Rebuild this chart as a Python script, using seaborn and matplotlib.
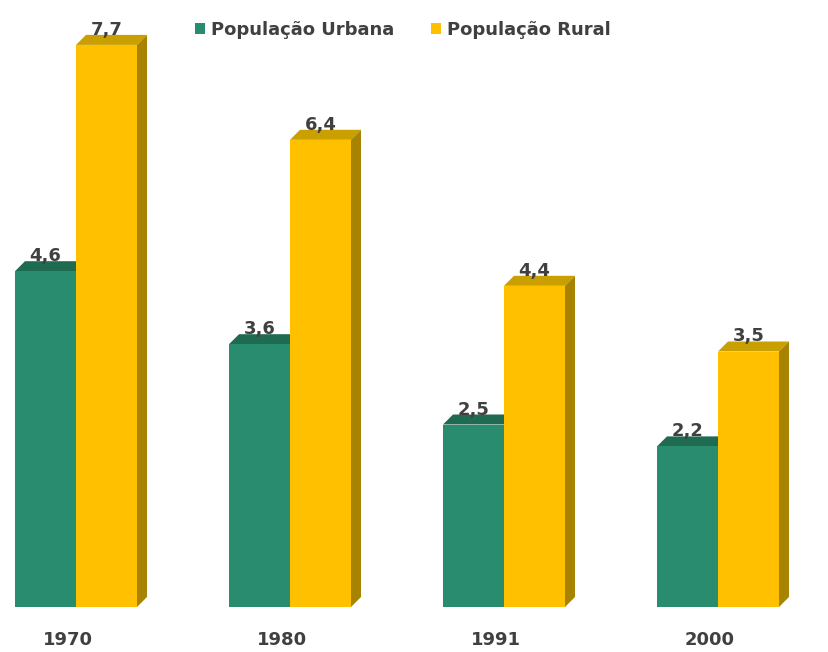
import matplotlib
matplotlib.use("Agg")
import matplotlib.pyplot as plt
from matplotlib.patches import Polygon, Patch
import seaborn as sns
import pandas as pd

years = ["1970", "1980", "1991", "2000"]
urbana = [4.6, 3.6, 2.5, 2.2]
rural = [7.7, 6.4, 4.4, 3.5]
series = ["População Urbana", "População Rural"]

front = {"População Urbana": "#2A8C6E", "População Rural": "#FFC000"}
top_col = {"População Urbana": "#1F6B52", "População Rural": "#C9A000"}
side_col = {"População Urbana": "#1A5A45", "População Rural": "#A88300"}
text_col = "#404040"

df = pd.DataFrame({
    "ano": years * 2,
    "serie": [series[0]] * len(years) + [series[1]] * len(years),
    "valor": urbana + rural,
})

sns.set_theme(style="white")
plt.rcParams["font.family"] = ["DejaVu Sans"]

W, H = 829, 652
fig = plt.figure(figsize=(W / 100, H / 100), dpi=100)
base_px, px_per_unit, group_px, first_px = 607, 73.0, 214.0, 76.0
ax = fig.add_axes([0, (H - base_px) / H, 1, base_px / H])

sns.barplot(data=df, x="ano", y="valor", hue="serie", hue_order=series,
            palette=front, width=0.57, saturation=1, ax=ax,
            linewidth=0, legend=False, zorder=3)

ax.set_xlim(-first_px / group_px, (W - first_px) / group_px)
ax.set_ylim(0, base_px / px_per_unit)

# 3D depth offsets in data units
dx = 10 / group_px
dy = 10 / px_per_unit

for container, name in zip(ax.containers, series):
    z = 2 if name == series[0] else 3
    for bar, val in zip(container.patches, container.datavalues):
        x0 = bar.get_x()
        x1 = x0 + bar.get_width()
        h = bar.get_height()
        bar.set_zorder(z + 0.5)
        top = Polygon([(x0, h), (x0 + dx, h + dy), (x1 + dx, h + dy), (x1, h)],
                      closed=True, facecolor=top_col[name], edgecolor="none",
                      zorder=z, clip_on=False)
        ax.add_patch(top)
        side = Polygon([(x1, 0), (x1 + dx, dy), (x1 + dx, h + dy), (x1, h)],
                       closed=True, facecolor=side_col[name], edgecolor="none",
                       zorder=z, clip_on=False)
        ax.add_patch(side)
        ax.text((x0 + x1) / 2, h + dy * 0.6, f"{val:.1f}".replace(".", ","),
                ha="center", va="bottom", fontsize=13, fontweight="bold",
                color=text_col, zorder=6)

ax.set_xlabel("")
ax.set_ylabel("")
ax.set_yticks([])
shift = 8 / group_px
ax.set_xticks([i - shift for i in range(len(years))], years)
ax.tick_params(axis="x", length=0, pad=17, labelsize=13, labelcolor=text_col)
for lbl in ax.get_xticklabels():
    lbl.set_fontweight("bold")
sns.despine(ax=ax, left=True, bottom=True)

handles = [Patch(facecolor=front[s], edgecolor="none") for s in series]
leg = fig.legend(handles, series, loc="center", bbox_to_anchor=(403 / W, 1 - 30 / H),
                 ncol=2, frameon=False, handlelength=0.55, handleheight=0.55,
                 handletextpad=0.35, columnspacing=2.0,
                 prop={"weight": "bold", "size": 13})
for t in leg.get_texts():
    t.set_color(text_col)

fig.savefig("out.png", dpi=100, facecolor="white")
